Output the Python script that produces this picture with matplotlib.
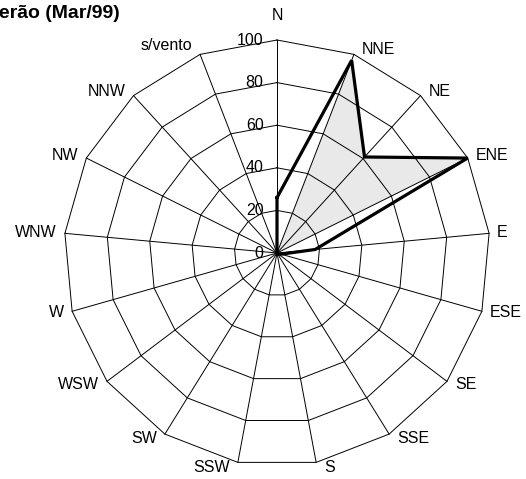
import numpy as np
import matplotlib
matplotlib.use("Agg")
import matplotlib.pyplot as plt

# wind direction frequencies, summer (Mar/99)
categories = ['N', 'NNE', 'NE', 'ENE', 'E', 'ESE', 'SE', 'SSE', 'S',
              'SSW', 'SW', 'WSW', 'W', 'WNW', 'NW', 'NNW', 's/vento']
values = [26, 97, 61, 100, 18, 2, 1, 0, 0, 0, 0, 0, 0, 0, 0, 0, 0]
shaded = ['NNE', 'NE', 'ENE']
rticks = [0, 20, 40, 60, 80, 100]
rmax = 100

plt.rcParams['font.family'] = ['Liberation Sans', 'DejaVu Sans']
plt.rcParams['hatch.color'] = '#6e6e6e'
plt.rcParams['hatch.linewidth'] = 0.7

n = len(categories)
theta = np.arange(n) * 2 * np.pi / n
sx = np.sin(theta)
cy = np.cos(theta)

fig = plt.figure(figsize=(5.26, 4.79), dpi=100)
ax = fig.add_axes([0, 0, 1, 1])
ax.set_xlim(-130.05, 116.9)
ax.set_ylim(-106.1, 118.78)
ax.axis('off')

# gridlines (polygons) and spokes
for r in rticks[1:]:
    gx = np.append(r * sx, r * sx[0])
    gy = np.append(r * cy, r * cy[0])
    ax.plot(gx, gy, color='black', lw=0.7, zorder=2)
for i in range(n):
    ax.plot([0, rmax * sx[i]], [0, rmax * cy[i]], color='black', lw=0.7, zorder=2)

# shaded sector
v = np.array(values, dtype=float)
fv = np.array([val if c in shaded else 0 for c, val in zip(categories, values)], dtype=float)
ax.fill(fv * sx, fv * cy, facecolor='#e9e9e9', hatch='....', edgecolor='none',
        lw=0, zorder=1)

# data line
ax.plot(np.append(v * sx, v[0] * sx[0]), np.append(v * cy, v[0] * cy[0]),
        color='black', lw=2.3, solid_joinstyle='miter', zorder=3)

# radial tick labels
for r in rticks:
    ax.text(-6.3, r, str(r), ha='right', va='center', fontsize=11.5, zorder=4)

# category labels
for i, c in enumerate(categories):
    x, y = rmax * sx[i], rmax * cy[i]
    if abs(sx[i]) < 0.05:
        ha, off = 'center', (0, 17)
        va = 'bottom'
    else:
        ha = 'left' if sx[i] > 0 else 'right'
        va = 'center'
        dy = 5 * cy[i]
        if c == 's/vento':
            dy = 9
        off = (8 if sx[i] > 0 else -8, dy)
    ax.annotate(c, (x, y), xytext=off, textcoords='offset pixels',
                ha=ha, va=va, fontsize=11.5)

# title runs off the left edge, as in the original
fig.text(-0.025, 0.9624, 'Verão (Mar/99)', fontsize=14, fontweight='bold',
         ha='left', va='baseline')

fig.savefig('out.png', dpi=100, facecolor='white')
